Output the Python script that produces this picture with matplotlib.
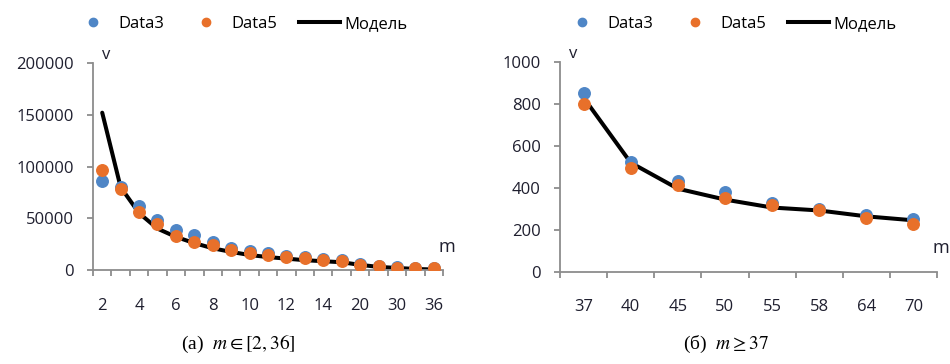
import numpy as np
import matplotlib
matplotlib.use('Agg')
import matplotlib.pyplot as plt
from matplotlib.lines import Line2D

plt.rcParams['font.family'] = ['Open Sans', 'DejaVu Sans']
plt.rcParams['mathtext.fontset'] = 'stix'

# left chart: m in [2, 36], category axis
m_left = ['2', '3', '4', '5', '6', '7', '8', '9', '10', '11', '12', '13', '14',
          '16', '20', '25', '30', '33', '36']
data3_left = [86000, 80500, 61500, 48000, 39000, 33500, 27500, 21500, 18500, 16000,
              14000, 12500, 11000, 9500, 5500, 3500, 2500, 2000, 1500]
data5_left = [97000, 78000, 56500, 44500, 33000, 27500, 24000, 19500, 16000, 14500,
              13000, 11500, 9500, 8500, 5000, 3500, 2000, 1800, 1800]
model_left = [152000, 80000, 55000, 40000, 32000, 26000, 21000, 17500, 14500, 12500,
              11000, 9500, 8500, 7500, 5000, 3000, 2000, 1000, 500]

# right chart: m >= 37
m_right = ['37', '40', '45', '50', '55', '58', '64', '70']
data3_right = [853, 522, 431, 380, 330, 301, 269, 249]
data5_right = [800, 496, 412, 353, 317, 293, 258, 227]
model_right = [830, 520, 396, 344, 306, 292, 264, 245]

C_BLUE = '#4f86c6'
C_ORANGE = '#e8702a'
AXIS_C = '#8c8c8c'
TXT_C = '#1f1f2f'

fig = plt.figure(figsize=(9.5, 3.64), dpi=100)


def draw_panel(rect, cats, d3, d5, model, ymax, ystep, label_every, leg_x, caption, cap_x):
    ax = fig.add_axes(rect)
    x = np.arange(len(cats))
    ax.plot(x, model, color='black', lw=2.9, zorder=2, solid_capstyle='round')
    ax.plot(x, d3, 'o', color=C_BLUE, ms=8.3, zorder=3)
    ax.plot(x, d5, 'o', color=C_ORANGE, ms=8.3, zorder=4)
    ax.set_xlim(-0.5, len(cats) - 0.5)
    ax.set_ylim(0, ymax)
    ax.set_yticks(np.arange(0, ymax + 1, ystep))
    ax.set_xticks(x[::label_every])
    ax.set_xticklabels(cats[::label_every])
    ax.set_xticks(np.arange(len(cats) + 1) - 0.5, minor=True)
    for s in ['top', 'right']:
        ax.spines[s].set_visible(False)
    for s in ['left', 'bottom']:
        ax.spines[s].set_color(AXIS_C)
        ax.spines[s].set_linewidth(1.3)
    ax.tick_params(axis='x', which='major', length=0, pad=20, labelsize=12, labelcolor=TXT_C)
    ax.tick_params(axis='x', which='minor', length=4, width=1.3, color=AXIS_C, direction='out')
    ax.tick_params(axis='y', length=4, width=1.3, color=AXIS_C, pad=10, labelsize=12, labelcolor=TXT_C)
    ax.text(0.025, 1.0, 'v', transform=ax.transAxes, fontsize=12, ha='left', va='bottom', color=TXT_C)
    ax.text(0.988, 0.07, 'm', transform=ax.transAxes, fontsize=13, ha='left', va='bottom', color=TXT_C)

    handles = [Line2D([], [], ls='none', marker='o', color=C_BLUE, ms=6),
               Line2D([], [], ls='none', marker='o', color=C_ORANGE, ms=6),
               Line2D([], [], color='black', lw=2.9)]
    fig.legend(handles, ['Data3', 'Data5', 'Модель'], loc='center', ncol=3,
               bbox_to_anchor=(leg_x, 0.935), frameon=False, fontsize=12,
               handlelength=2.45, handletextpad=0.3, columnspacing=1.3)
    fig.text(cap_x, 0.055, caption, ha='center', va='center', fontsize=14,
             family=['Liberation Serif', 'DejaVu Serif'])
    return ax


draw_panel([0.0979, 0.2582, 0.3684, 0.5687], m_left, data3_left, data5_left, model_left,
           200000, 50000, 2, 240 / 950, '(а)  $m \\in [2, 36]$', 238 / 950)
draw_panel([0.5895, 0.2536, 0.3968, 0.576], m_right, data3_right, data5_right, model_right,
           1000, 200, 1, 729 / 950, '(б)  $m \\geq 37$', 726 / 950)

fig.savefig('out.png', dpi=100)
